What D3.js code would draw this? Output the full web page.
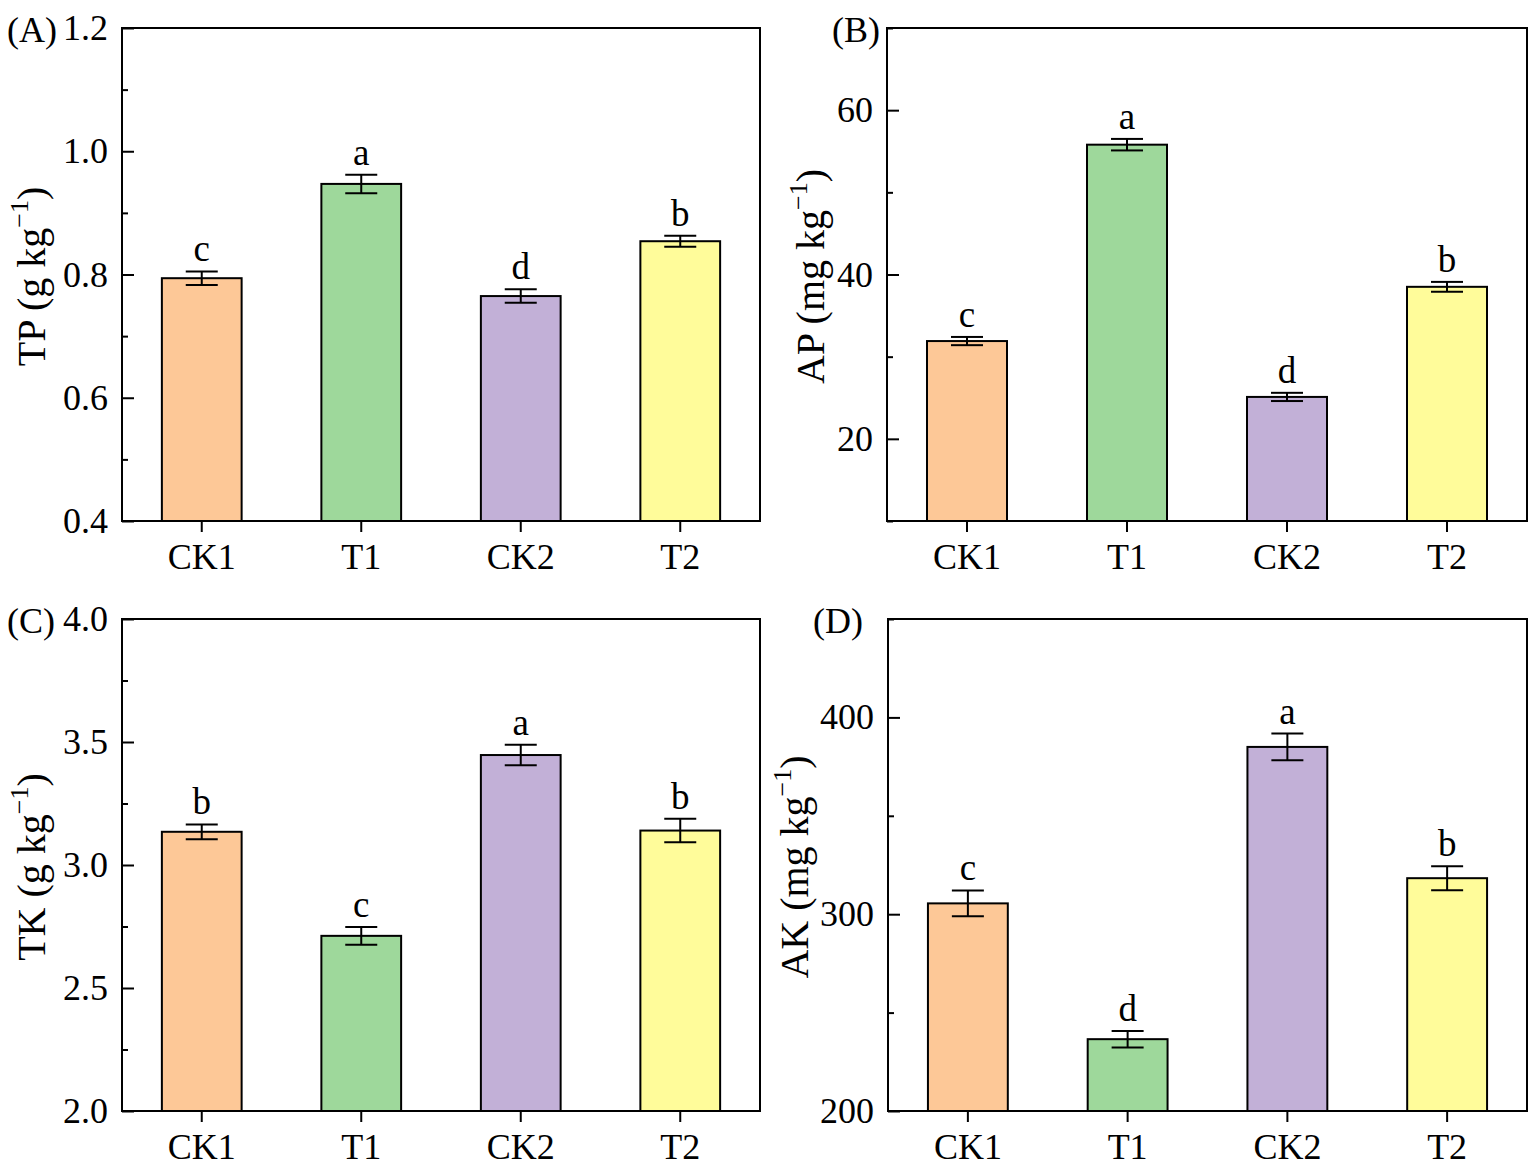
<!DOCTYPE html>
<meta charset="utf-8">
<html>
<style>
  body { margin: 0; background: #fff; }
  text { font-family: "Liberation Serif", "Times New Roman", serif; fill: #000; }
  .axis text { font-size: 36px; }
  .axis line { stroke: #000; stroke-width: 2; }
  .axis path { display: none; }
</style>
<script src="https://cdn.jsdelivr.net/npm/d3@7"></script>
<body>
  <svg class="chart"></svg>
</body>
<script>
  var width = 1535;
  var height = 1169;

  var categories = ["CK1", "T1", "CK2", "T2"];
  var colors = ["#FDC897", "#9ED89B", "#C2B0D7", "#FFFC9A"];

  var tpMean = [0.794, 0.947, 0.765, 0.854];
  var tpErr = [0.011, 0.015, 0.011, 0.009];
  var tpLetters = ["c", "a", "d", "b"];

  var apMean = [31.9, 55.8, 25.1, 38.5];
  var apErr = [0.5, 0.7, 0.5, 0.6];
  var apLetters = ["c", "a", "d", "b"];

  var tkMean = [3.135, 2.712, 3.447, 3.140];
  var tkErr = [0.030, 0.036, 0.042, 0.048];
  var tkLetters = ["b", "c", "a", "b"];

  var akMean = [305.5, 236.5, 385, 318.3];
  var akErr = [6.6, 4.2, 6.8, 6.1];
  var akLetters = ["c", "d", "a", "b"];

  var tpTicks = [0.4, 0.6, 0.8, 1.0, 1.2];
  var tpMinor = [0.5, 0.7, 0.9, 1.1];
  var apTicks = [20, 40, 60];
  var apMinor = [10, 30, 50, 70];
  var tkTicks = [2.0, 2.5, 3.0, 3.5, 4.0];
  var tkMinor = [2.25, 2.75, 3.25, 3.75];
  var akTicks = [200, 300, 400];
  var akMinor = [250, 350, 450];

  var svg = d3.select(".chart")
    .attr("width", width)
    .attr("height", height);

  var panels = [
    { tag: "(A)", tagX: 7, name: "TP", unit: "g kg", mean: tpMean, err: tpErr, letters: tpLetters,
      domain: [0.4, 1.2], ticks: tpTicks, minor: tpMinor, fmt: d3.format(".1f"),
      left: 122, right: 760, top: 28, bottom: 521, titleX: 45 },
    { tag: "(B)", tagX: 832, name: "AP", unit: "mg kg", mean: apMean, err: apErr, letters: apLetters,
      domain: [10, 70], ticks: apTicks, minor: apMinor, fmt: d3.format("d"),
      left: 887, right: 1527, top: 28, bottom: 521, titleX: 824 },
    { tag: "(C)", tagX: 7, name: "TK", unit: "g kg", mean: tkMean, err: tkErr, letters: tkLetters,
      domain: [2, 4], ticks: tkTicks, minor: tkMinor, fmt: d3.format(".1f"),
      left: 122, right: 760, top: 619, bottom: 1111, titleX: 45 },
    { tag: "(D)", tagX: 813, name: "AK", unit: "mg kg", mean: akMean, err: akErr, letters: akLetters,
      domain: [200, 450], ticks: akTicks, minor: akMinor, fmt: d3.format("d"),
      left: 888, right: 1527, top: 619, bottom: 1111, titleX: 808 }
  ];

  panels.forEach(function(p) {
    var g = svg.append("g");

    var x = d3.scaleBand()
      .domain(categories)
      .range([p.left, p.right])
      .paddingInner(0.5)
      .paddingOuter(0.25);

    var y = d3.scaleLinear()
      .domain(p.domain)
      .range([p.bottom, p.top]);

    var rows = categories.map(function(c, i) {
      return { cat: c, mean: p.mean[i], err: p.err[i], letter: p.letters[i], color: colors[i] };
    });

    // bars
    g.selectAll("rect.bar")
      .data(rows)
      .enter().append("rect")
      .attr("class", "bar")
      .attr("x", function(d) { return x(d.cat); })
      .attr("width", x.bandwidth())
      .attr("y", function(d) { return y(d.mean); })
      .attr("height", function(d) { return p.bottom - y(d.mean); })
      .attr("fill", function(d) { return d.color; })
      .attr("stroke", "#000")
      .attr("stroke-width", 2);

    // error bars
    var eb = g.selectAll("g.err")
      .data(rows)
      .enter().append("g")
      .attr("class", "err")
      .attr("stroke", "#000")
      .attr("stroke-width", 2);
    var cx = function(d) { return x(d.cat) + x.bandwidth() / 2; };
    eb.append("line")
      .attr("x1", cx).attr("x2", cx)
      .attr("y1", function(d) { return y(d.mean + d.err); })
      .attr("y2", function(d) { return y(d.mean - d.err); });
    [1, -1].forEach(function(s) {
      eb.append("line")
        .attr("x1", function(d) { return cx(d) - 16; })
        .attr("x2", function(d) { return cx(d) + 16; })
        .attr("y1", function(d) { return y(d.mean + s * d.err); })
        .attr("y2", function(d) { return y(d.mean + s * d.err); });
    });

    // significance letters
    g.selectAll("text.sig")
      .data(rows)
      .enter().append("text")
      .attr("class", "sig")
      .attr("x", cx)
      .attr("y", function(d) { return y(d.mean + d.err) - 10; })
      .attr("text-anchor", "middle")
      .style("font-size", "37px")
      .text(function(d) { return d.letter; });

    // frame
    g.append("rect")
      .attr("x", p.left)
      .attr("y", p.top)
      .attr("width", p.right - p.left)
      .attr("height", p.bottom - p.top)
      .attr("fill", "none")
      .attr("stroke", "#000")
      .attr("stroke-width", 2);

    // axes
    g.append("g")
      .attr("class", "axis")
      .attr("transform", "translate(" + p.left + ",0)")
      .call(d3.axisLeft(y).tickValues(p.ticks).tickFormat(p.fmt).tickSize(-12).tickPadding(14));

    g.append("g")
      .attr("class", "axis")
      .attr("transform", "translate(" + p.left + ",0)")
      .call(d3.axisLeft(y).tickValues(p.minor).tickFormat("").tickSize(-6));

    g.append("g")
      .attr("class", "axis")
      .attr("transform", "translate(0," + p.bottom + ")")
      .call(d3.axisBottom(x).tickSize(11).tickPadding(11));

    // axis title
    var cy = (p.top + p.bottom) / 2 + 2;
    var title = g.append("text")
      .attr("transform", "translate(" + p.titleX + "," + cy + ") rotate(-90)")
      .attr("text-anchor", "middle")
      .style("font-size", "40px");
    title.append("tspan").text(p.name + " (" + p.unit);
    title.append("tspan").attr("dy", -17).style("font-size", "26px").text("\u22121");
    title.append("tspan").attr("dy", 17).text(")");

    // panel tag
    g.append("text")
      .attr("x", p.tagX)
      .attr("y", p.top + 14)
      .style("font-size", "36px")
      .text(p.tag);
  });
</script>

</html>
